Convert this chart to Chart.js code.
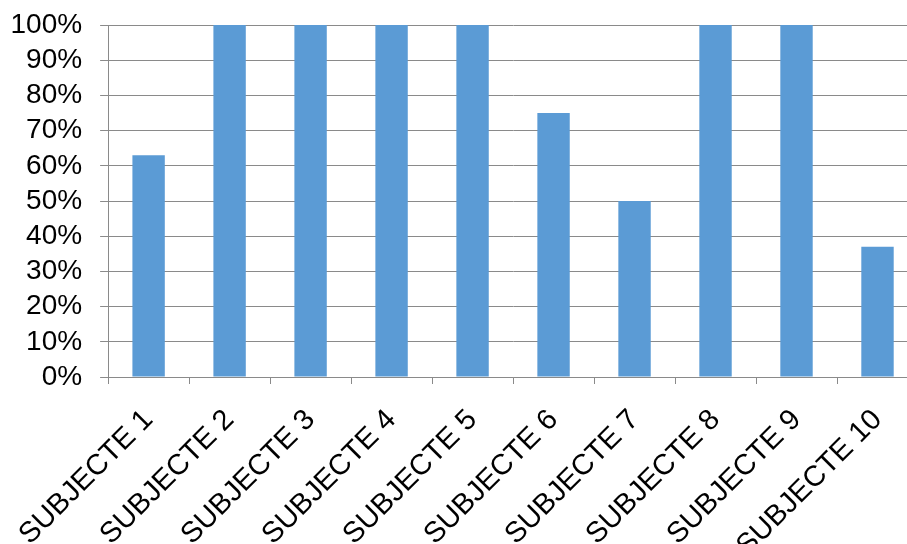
<!DOCTYPE html>
<html>
<head>
<meta charset="utf-8">
<script src="https://cdn.jsdelivr.net/npm/chart.js@4/dist/chart.umd.min.js"></script>
<style>
  html, body { margin: 0; padding: 0; background: #fff; overflow: hidden; }
  #wrap { width: 930px; height: 544px; position: relative; }
</style>
</head>
<body>
<div id="wrap"><canvas id="subjectsChart"></canvas></div>
<script>
const labels = ["SUBJECTE 1", "SUBJECTE 2", "SUBJECTE 3", "SUBJECTE 4", "SUBJECTE 5",
  "SUBJECTE 6", "SUBJECTE 7", "SUBJECTE 8", "SUBJECTE 9", "SUBJECTE 10"]
const values = [63, 100, 100, 100, 100, 75, 50, 100, 100, 37]
const yTicks = [0, 10, 20, 30, 40, 50, 60, 70, 80, 90, 100]

const lineGray = '#8a8a8a'
const context = document.getElementById('subjectsChart')
new Chart(context, {
  type: 'bar',
  data: {
    labels: labels,
    datasets: [{
      data: values,
      backgroundColor: '#5b9bd5',
      categoryPercentage: 0.8,
      barPercentage: 0.5
    }]
  },
  options: {
    responsive: true,
    maintainAspectRatio: false,
    animation: false,
    layout: { padding: { top: 25, right: 12, left: 0, bottom: 0 } },
    plugins: {
      legend: { display: false },
      tooltip: { enabled: false }
    },
    scales: {
      x: {
        afterFit: (scale) => { scale.height = 167 },
        grid: { offset: true, drawOnChartArea: false, color: lineGray, tickLength: 7 },
        border: { color: lineGray },
        ticks: {
          autoSkip: false,
          minRotation: 45,
          maxRotation: 45,
          padding: 19,
          color: '#000',
          font: { family: 'Liberation Sans, Arial, sans-serif', size: 29 }
        }
      },
      y: {
        min: 0,
        max: 100,
        afterFit: (scale) => {
          scale.width = 108
          scale.paddingTop = 0
          scale.paddingBottom = 0
        },
        afterBuildTicks: (scale) => { scale.ticks = yTicks.map(v => ({ value: v })) },
        grid: { color: lineGray, tickLength: 8 },
        border: { color: lineGray },
        ticks: {
          autoSkip: false,
          padding: 18,
          color: '#000',
          font: { family: 'Liberation Sans, Arial, sans-serif', size: 28 },
          callback: (v) => v + '%'
        }
      }
    }
  }
})
</script>
</body>
</html>
